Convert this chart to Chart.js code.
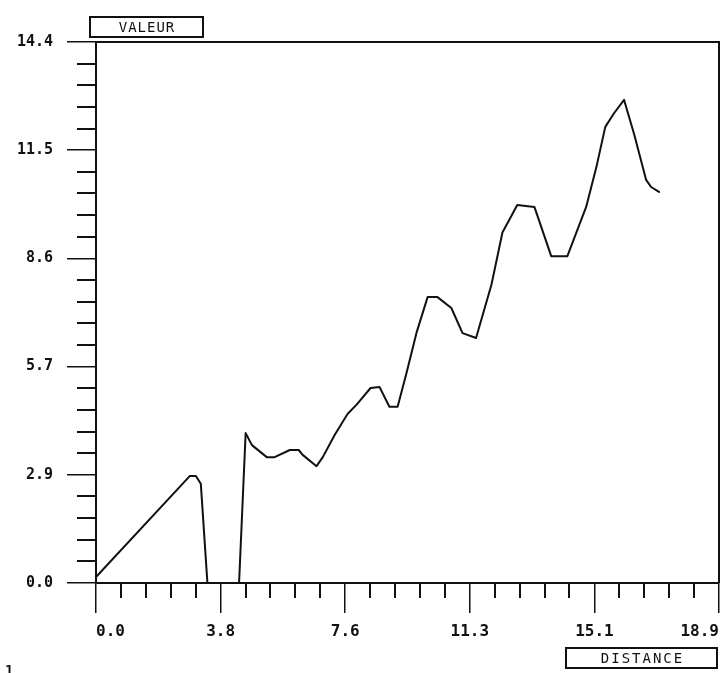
<!DOCTYPE html>
<html>
<head>
<meta charset="utf-8">
<script src="https://cdn.jsdelivr.net/npm/chart.js@4.4.1/dist/chart.umd.min.js"></script>
<style>
  html, body { margin: 0; padding: 0; background: #fff; }
  canvas { display: block; }
</style>
</head>
<body>
<canvas id="myChart" width="728" height="673"></canvas>
<script>
// curve
const distance = [0, 2.85, 3.03, 3.18, 3.38, 4.34, 4.54, 4.73, 5.18, 5.42, 5.88, 6.15, 6.27, 6.69, 6.88, 7.24, 7.63, 7.9, 8.33, 8.6, 8.9, 9.15, 9.42, 9.72, 10.06, 10.36, 10.78, 11.12, 11.53, 12.0, 12.33, 12.78, 13.3, 13.81, 14.3, 14.87, 15.18, 15.45, 15.72, 16.02, 16.33, 16.69, 16.84, 17.08];
const valeur = [0.16, 2.85, 2.85, 2.64, 0, 0, 3.99, 3.67, 3.35, 3.35, 3.54, 3.54, 3.41, 3.11, 3.35, 3.94, 4.5, 4.74, 5.19, 5.22, 4.69, 4.69, 5.59, 6.65, 7.61, 7.61, 7.32, 6.65, 6.52, 7.95, 9.33, 10.06, 10.01, 8.7, 8.7, 10.01, 11.07, 12.14, 12.51, 12.86, 11.93, 10.73, 10.54, 10.41];

// axes
const xTicks = [0, 3.78, 7.56, 11.34, 15.12, 18.9];
const xTickLabels = ['0.0', '3.8', '7.6', '11.3', '15.1', '18.9'];
const yTicks = [0, 2.88, 5.76, 8.64, 11.52, 14.4];
const yTickLabels = ['0.0', '2.9', '5.7', '8.6', '11.5', '14.4'];
const xTitle = 'DISTANCE';
const yTitle = 'VALEUR';

const points = distance.map((d, i) => ({ x: d, y: valeur[i] }));

// 4 small ticks between each pair of labelled ticks
function minorTicks(major) {
    const out = [];
    for (let i = 0; i < major.length - 1; i++) {
        const step = (major[i + 1] - major[i]) / 5;
        for (let k = 1; k < 5; k++) out.push(major[i] + k * step);
    }
    return out;
}

function boxLabel(ctx, text, x1, y1, x2, y2, spacing) {
    ctx.save();
    ctx.strokeStyle = '#111';
    ctx.lineWidth = 2;
    ctx.strokeRect(x1, y1, x2 - x1, y2 - y1);
    ctx.fillStyle = '#111';
    ctx.font = '14px "DejaVu Sans Mono"';
    ctx.letterSpacing = spacing + 'px';
    ctx.textAlign = 'center';
    ctx.textBaseline = 'middle';
    ctx.fillText(text, (x1 + x2) / 2 + spacing / 2, (y1 + y2) / 2 + 1);
    ctx.restore();
}

const framePlugin = {
    id: 'frame',
    afterDraw(chart) {
        const ctx = chart.ctx;
        const a = chart.chartArea;
        const xs = chart.scales.x, ys = chart.scales.y;
        ctx.save();
        ctx.strokeStyle = '#111';
        ctx.lineWidth = 2;
        ctx.beginPath();
        ctx.moveTo(a.left, a.top);
        ctx.lineTo(a.right, a.top);
        ctx.lineTo(a.right, a.bottom);
        ctx.stroke();

        ctx.lineWidth = 2;
        minorTicks(xTicks).forEach(v => {
            const px = Math.round(xs.getPixelForValue(v));
            ctx.beginPath();
            ctx.moveTo(px, a.bottom);
            ctx.lineTo(px, a.bottom + 15);
            ctx.stroke();
        });
        minorTicks(yTicks).forEach(v => {
            const py = Math.round(ys.getPixelForValue(v));
            ctx.beginPath();
            ctx.moveTo(a.left - 19, py);
            ctx.lineTo(a.left, py);
            ctx.stroke();
        });
        ctx.restore();

        boxLabel(ctx, yTitle, 90, 17, 203, 37, 1);
        boxLabel(ctx, xTitle, 566, 648, 717, 668, 2);

        ctx.save();
        ctx.fillStyle = '#111';
        ctx.font = 'bold 14px "DejaVu Sans Mono"';
        ctx.textBaseline = 'top';
        ctx.fillText('1', 5, 664);
        ctx.restore();
    }
};

new Chart(document.getElementById('myChart').getContext('2d'), {
    type: 'line',
    data: {
        datasets: [{
            data: points,
            borderColor: '#111',
            borderWidth: 2,
            borderJoinStyle: 'round',
            borderCapStyle: 'round',
            pointRadius: 0,
            tension: 0,
            fill: false
        }]
    },
    options: {
        responsive: false,
        animation: false,
        devicePixelRatio: 1,
        layout: { padding: { top: 42, right: 8, left: 0, bottom: 0 } },
        plugins: { legend: { display: false }, tooltip: { enabled: false } },
        scales: {
            x: {
                type: 'linear',
                min: 0,
                max: 18.9,
                afterBuildTicks: s => { s.ticks = xTicks.map(v => ({ value: v })); },
                afterFit: s => { s.height = 90; },
                ticks: {
                    callback: (v, i) => xTickLabels[i],
                    align: 'inner',
                    autoSkip: false,
                    maxRotation: 0,
                    padding: 9,
                    color: '#111',
                    font: { family: 'DejaVu Sans Mono', size: 16, weight: 'bold' }
                },
                grid: { drawOnChartArea: false, tickLength: 30, color: '#111', lineWidth: 1.5 },
                border: { color: '#111', width: 2 }
            },
            y: {
                type: 'linear',
                min: 0,
                max: 14.4,
                afterBuildTicks: s => { s.ticks = yTicks.map(v => ({ value: v })); },
                afterFit: s => { s.width = 96; },
                ticks: {
                    callback: (v, i) => yTickLabels[i],
                    autoSkip: false,
                    padding: 14,
                    color: '#111',
                    font: { family: 'DejaVu Sans Mono', size: 15, weight: 'bold' }
                },
                grid: { drawOnChartArea: false, tickLength: 29, color: '#111', lineWidth: 1.5 },
                border: { color: '#111', width: 2 }
            }
        }
    },
    plugins: [framePlugin]
});
</script>
</body>
</html>
